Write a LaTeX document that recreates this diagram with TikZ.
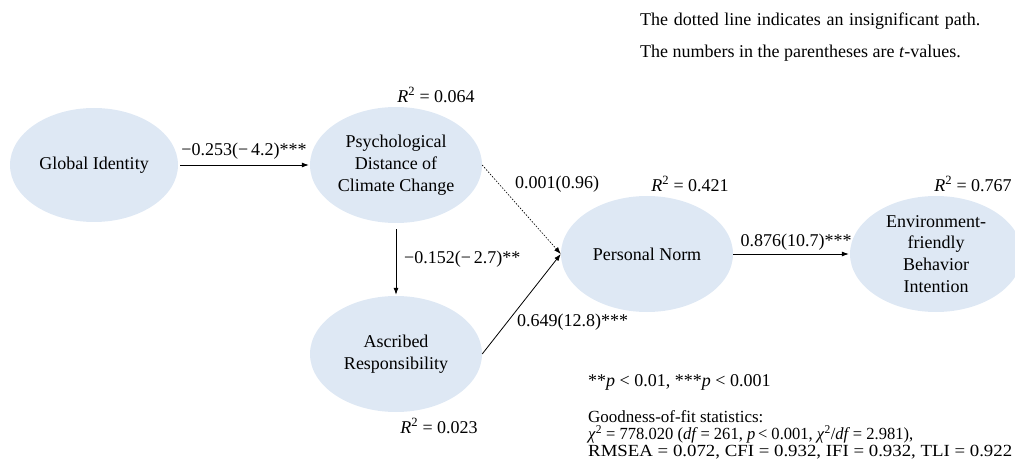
\documentclass[tikz,border=0pt]{standalone}
\usepackage{fontspec}
\usepackage{graphicx}
\setmainfont{Liberation Serif}
\usetikzlibrary{shapes.geometric,arrows.meta}
\definecolor{latent}{RGB}{222,232,244}
\tikzset{
  latentvar/.style={ellipse, fill=latent, draw=none, minimum width=172pt, minimum height=116pt, inner sep=0pt, align=center, font=\fontsize{18}{21.8}\selectfont},
  path/.style={draw=black, line width=0.8pt, -{Latex[length=7pt,width=5pt]}},
  insig/.style={draw=black, line width=0.6pt, dash pattern=on 1.6pt off 1.4pt, -{Latex[length=7pt,width=5pt]}},
  lbl/.style={font=\fontsize{18}{21}\selectfont, inner sep=0pt},
  note/.style={font=\fontsize{18}{21}\selectfont, inner sep=0pt, anchor=west},
}
\begin{document}
\begin{tikzpicture}[x=1pt,y=-1pt]
\useasboundingbox (0,0) rectangle (1015,465);
\begin{scope}
\clip (0,0) rectangle (1015,465);
\node[latentvar, minimum width=168pt, minimum height=114pt] (gi) at (94,165) {Global Identity};
\node[latentvar] (pd) at (396,165) {Psychological\\Distance of\\Climate Change};
\node[latentvar] (ar) at (396,354) {Ascribed\\Responsibility};
\node[latentvar] (pn) at (647,254) {Personal Norm};
\node[latentvar] (env) at (936,254) {Environment-\\friendly\\Behavior\\Intention};
\end{scope}

\draw[path, shorten <=2pt, shorten >=1pt] (gi) -- (pd);
\draw[path, shorten <=6pt, shorten >=1pt] (pd.south) -- (ar.north);
\draw[insig] (pd.east) -- (pn.west);
\draw[path] (ar.east) -- (pn.west);
\draw[path, shorten >=1pt] (pn.east) -- (env.west);

\node[lbl] (l1) at (244,151) {−0.253(−\,4.2)***};
\node[lbl, anchor=west] (l2) at (404,259) {−0.152(−\,2.7)**};
\node[lbl, anchor=west] (l3) at (515,184) {0.001(0.96)};
\node[lbl, anchor=west] (l4) at (517,322) {0.649(12.8)***};
\node[lbl] (l5) at (796,242) {0.876(10.7)***};

\node[lbl] (r1) at (436,95) {\textit{R}\textsuperscript{2} = 0.064};
\node[lbl] (r2) at (690,184) {\textit{R}\textsuperscript{2} = 0.421};
\node[lbl] (r3) at (973,184) {\textit{R}\textsuperscript{2} = 0.767};
\node[lbl] (r4) at (439,426) {\textit{R}\textsuperscript{2} = 0.023};

\node[note] (n1) at (640,21) {\makebox[340pt][s]{The dotted line indicates an insignificant path.}};
\node[note] (n2) at (640,53) {The numbers in the parentheses are \textit{t}-values.};

\node[note] (p1) at (588,382) {**\textit{p} < 0.01, ***\textit{p} < 0.001};
\node[note, align=left, anchor=north west, font=\fontsize{17}{17.3}\selectfont] (gof) at (588,410) {Goodness-of-fit statistics:\\
\resizebox{325pt}{\height}{\textit{χ}\textsuperscript{2} = 778.020 (\textit{df}\,= 261, \textit{p}\,< 0.001, \textit{χ}\textsuperscript{2}/\textit{df}\,= 2.981),}\\
\resizebox{424pt}{\height}{RMSEA = 0.072, CFI = 0.932, IFI = 0.932, TLI = 0.922}};
\end{tikzpicture}
\end{document}
